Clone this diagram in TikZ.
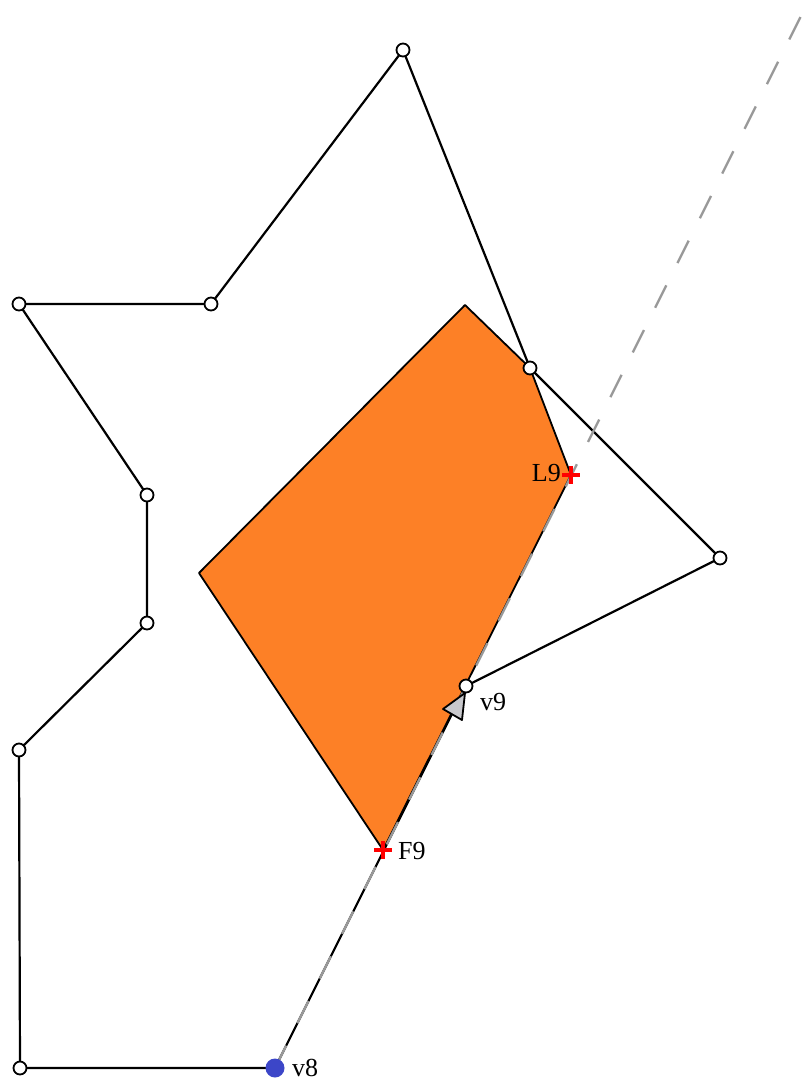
\documentclass[tikz,border=0pt]{standalone}
\usepackage{fontspec}
\setmainfont{Liberation Serif}
\begin{document}
\begin{tikzpicture}[x=1pt,y=-1pt,
  vtx/.style={circle,draw=black,fill=white,line width=1.8pt,inner sep=0pt,minimum size=13pt},
  edgeline/.style={black,line width=2.2pt},
  rayline/.style={black!40,line width=2.4pt,dash pattern=on 25pt off 25pt},
  lbl/.style={font=\fontsize{26}{28}\selectfont,inner sep=1pt},
  crossmark/.style={red,line width=3.6pt}]
\useasboundingbox (0,0) rectangle (808,1082);
\definecolor{clipor}{RGB}{253,128,38}
\definecolor{arrgray}{RGB}{200,200,204}
\definecolor{v8blue}{RGB}{60,70,200}
% polygon vertices
\coordinate (p0) at (20,1068);
\coordinate (v8) at (275,1068);
\coordinate (v9) at (466,686);
\coordinate (p3) at (720,558);
\coordinate (p4) at (530,368);
\coordinate (p5) at (403,50);
\coordinate (p6) at (211,304);
\coordinate (p7) at (19,304);
\coordinate (p8) at (147,495);
\coordinate (p9) at (147,623);
\coordinate (p10) at (19,750);
% clipped polygon
\coordinate (c1) at (465,305);
\coordinate (L9) at (571,475);
\coordinate (F9) at (383,850);
\coordinate (c4) at (199,573);
\coordinate (rayend) at (810,-2);
% orange region
\draw[fill=clipor,draw=black,line width=1.8pt,line join=round] (c1) -- (p4) -- (L9) -- (F9) -- (c4) -- cycle;
% polygon edges
\draw[edgeline] (p0) -- (v8) -- (v9) -- (p3) -- (p4) -- (p5) -- (p6) -- (p7) -- (p8) -- (p9) -- (p10) -- cycle;
% ray
\draw[rayline] (v8) -- (rayend);
% arrowhead at v9
\coordinate (at) at (465,693);
\coordinate (al) at (443,709);
\coordinate (ar) at (462,720);
\draw[fill=arrgray,draw=black,line width=1.8pt,line join=round] (at) -- (al) -- (ar) -- cycle;
% vertices
\foreach \p in {p0,v9,p3,p4,p5,p6,p7,p8,p9,p10}
  \node[vtx] (n\p) at (\p) {};
\node[circle,fill=v8blue,inner sep=0pt,minimum size=19pt] (nv8) at (v8) {};
% crosses
\draw[crossmark] (F9) ++(-9,0) -- ++(18,0) (F9) ++(0,-9) -- ++(0,18);
\draw[crossmark] (L9) ++(-9,0) -- ++(18,0) (L9) ++(0,-9) -- ++(0,18);
% labels
\node[lbl,anchor=west] (tv9) at (479,702) {v9};
\node[lbl,anchor=west] (tF9) at (397,851) {F9};
\node[lbl,anchor=east] (tL9) at (562,473) {L9};
\node[lbl,anchor=west] (tv8) at (291,1068) {v8};
\end{tikzpicture}
\end{document}
